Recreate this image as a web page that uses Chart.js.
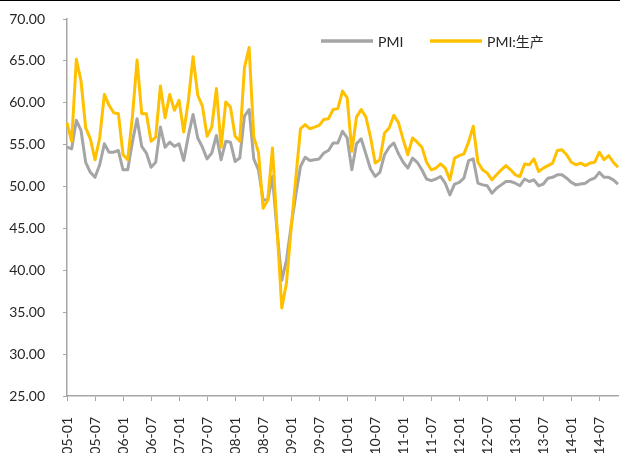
<!DOCTYPE html>
<html><head><meta charset="utf-8">
<script src="https://cdn.jsdelivr.net/npm/chart.js@4/dist/chart.umd.min.js"></script>
<style>
html,body{margin:0;padding:0;background:#fff;overflow:hidden;width:620px;height:453px}
#wrap{position:relative;width:620px;height:470px}
#topline{position:absolute;left:0;top:0;width:620px;height:1px;background:#000;z-index:2}
canvas{display:block}
</style></head><body>
<div id="wrap"><div id="topline"></div><canvas id="c" width="620" height="470"></canvas></div>
<script>
const months = [
 '05-01','05-02','05-03','05-04','05-05','05-06','05-07','05-08','05-09','05-10','05-11','05-12',
 '06-01','06-02','06-03','06-04','06-05','06-06','06-07','06-08','06-09','06-10','06-11','06-12',
 '07-01','07-02','07-03','07-04','07-05','07-06','07-07','07-08','07-09','07-10','07-11','07-12',
 '08-01','08-02','08-03','08-04','08-05','08-06','08-07','08-08','08-09','08-10','08-11','08-12',
 '09-01','09-02','09-03','09-04','09-05','09-06','09-07','09-08','09-09','09-10','09-11','09-12',
 '10-01','10-02','10-03','10-04','10-05','10-06','10-07','10-08','10-09','10-10','10-11','10-12',
 '11-01','11-02','11-03','11-04','11-05','11-06','11-07','11-08','11-09','11-10','11-11','11-12',
 '12-01','12-02','12-03','12-04','12-05','12-06','12-07','12-08','12-09','12-10','12-11','12-12',
 '13-01','13-02','13-03','13-04','13-05','13-06','13-07','13-08','13-09','13-10','13-11','13-12',
 '14-01','14-02','14-03','14-04','14-05','14-06','14-07','14-08','14-09','14-10','14-11'
];
const pmi = [
 54.7,54.5,57.9,56.7,52.9,51.7,51.1,52.6,55.1,54.1,54.1,54.3,
 52.0,52.0,55.3,58.1,54.8,54.0,52.3,52.9,57.1,54.7,55.3,54.8,
 55.1,53.1,56.1,58.6,55.8,54.7,53.3,54.0,56.1,53.2,55.4,55.3,
 53.0,53.4,58.4,59.2,53.3,52.0,48.4,48.4,51.2,44.6,38.8,41.2,
 45.3,49.0,52.4,53.5,53.1,53.2,53.3,54.0,54.3,55.2,55.2,56.6,
 55.8,52.0,55.1,55.7,53.9,52.1,51.2,51.7,53.8,54.7,55.2,53.9,
 52.9,52.2,53.4,52.9,52.0,50.9,50.7,50.9,51.2,50.4,49.0,50.3,
 50.5,51.0,53.1,53.3,50.4,50.2,50.1,49.2,49.8,50.2,50.6,50.6,
 50.4,50.1,50.9,50.6,50.8,50.1,50.3,51.0,51.1,51.4,51.4,51.0,
 50.5,50.2,50.3,50.4,50.8,51.0,51.7,51.1,51.1,50.8,50.3
];
const pmiProduction = [
 57.6,55.4,65.2,62.6,57.0,55.7,53.2,55.8,61.0,59.7,58.8,58.7,
 53.8,53.2,58.3,65.1,58.7,58.7,55.4,55.9,62.0,58.2,61.0,59.1,
 60.3,56.5,60.3,65.5,60.9,59.6,56.0,57.1,61.7,54.7,60.1,59.5,
 56.0,55.4,64.2,66.6,55.9,54.1,47.4,48.4,54.6,44.8,35.5,38.5,
 45.0,51.0,56.9,57.4,56.9,57.1,57.3,58.0,58.1,59.2,59.3,61.4,
 60.6,54.2,58.3,59.2,58.3,55.9,52.8,53.2,56.4,57.0,58.5,57.6,
 55.6,53.8,55.8,55.3,54.7,52.9,52.0,52.2,52.7,52.2,50.8,53.4,
 53.7,53.9,55.3,57.2,52.9,52.0,51.6,50.8,51.4,52.0,52.5,52.0,
 51.4,51.2,52.7,52.6,53.3,51.8,52.2,52.5,52.8,54.3,54.4,53.8,
 52.9,52.6,52.8,52.5,52.8,52.9,54.1,53.2,53.7,52.9,52.3
];
const seriesNames = ['PMI', 'PMI:生产'];
const yTicks = {min: 25, max: 70, step: 5};
const labelEvery = 6;

const FONT = "Lato, 'Noto Sans CJK SC', sans-serif";
const TXT = '#262626';
const AXIS = '#a6a6a6';

const legendPlugin = {
  id: 'customLegend',
  afterDraw(chart) {
    const ctx = chart.ctx;
    const spots = [{x1: 321, x2: 373, tx: 378}, {x1: 430, x2: 482, tx: 487}];
    const y = 41;
    ctx.save();
    chart.data.datasets.forEach((ds, i) => {
      const s = spots[i];
      ctx.strokeStyle = ds.borderColor;
      ctx.lineWidth = 3.5;
      ctx.beginPath(); ctx.moveTo(s.x1, y); ctx.lineTo(s.x2, y); ctx.stroke();
      ctx.fillStyle = TXT;
      ctx.font = '14px ' + FONT;
      ctx.textBaseline = 'middle';
      ctx.textAlign = 'left';
      ctx.fillText(ds.label, s.tx, y + 1);
    });
    ctx.restore();
  }
};

new Chart(document.getElementById('c'), {
  type: 'line',
  data: {
    labels: months,
    datasets: [
      {label: seriesNames[0], data: pmi, borderColor: '#a5a5a5', order: 1},
      {label: seriesNames[1], data: pmiProduction, borderColor: '#ffc000', order: 0}
    ]
  },
  options: {
    responsive: false,
    animation: false,
    devicePixelRatio: 1,
    layout: {padding: {left: 0, right: 2, top: 19, bottom: 0}},
    plugins: {legend: {display: false}, tooltip: {enabled: false}},
    elements: {
      point: {radius: 0},
      line: {tension: 0, borderWidth: 3, fill: false, borderJoinStyle: 'round'}
    },
    scales: {
      x: {
        type: 'category',
        offset: false,
        grid: {
          display: true, drawOnChartArea: false, drawTicks: true, tickLength: 5,
          tickColor: (c) => (c.index % labelEvery === 0 ? AXIS : 'rgba(0,0,0,0)')
        },
        border: {display: true, color: AXIS, width: 1.5},
        ticks: {
          autoSkip: false, maxRotation: 90, minRotation: 90, padding: 16,
          color: TXT, font: {family: FONT, size: 14},
          callback: function (v, i) { return i % labelEvery === 0 ? this.getLabelForValue(v) : ''; }
        },
        afterFit: (s) => { s.height = 74; s.paddingLeft = 0; s.paddingRight = 0; }
      },
      y: {
        min: yTicks.min, max: yTicks.max,
        grid: {drawOnChartArea: false, tickLength: 4, tickColor: AXIS},
        border: {display: true, color: AXIS, width: 1.5},
        ticks: {
          stepSize: yTicks.step, padding: 18, color: TXT, font: {family: FONT, size: 14},
          callback: (v) => Number(v).toFixed(2)
        },
        afterFit: (s) => { s.width = 67; s.paddingTop = 0; s.paddingBottom = 0; }
      }
    }
  },
  plugins: [legendPlugin]
});
</script>
</body></html>
